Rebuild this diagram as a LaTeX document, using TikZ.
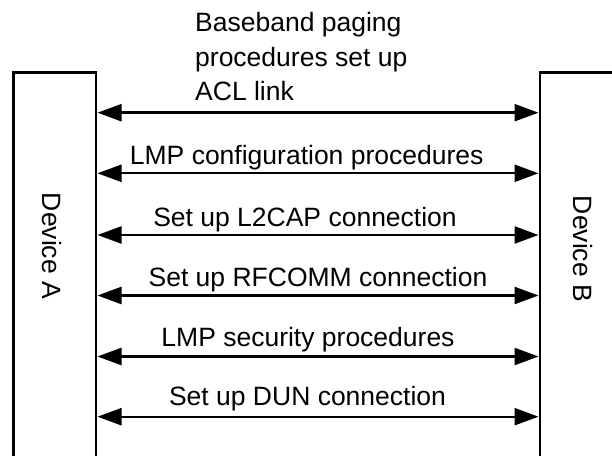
\documentclass[tikz,border=0pt]{standalone}
\usepackage{fontspec}
\setmainfont{Liberation Sans}
\usetikzlibrary{arrows.meta}
\begin{document}
\begin{tikzpicture}[x=1bp,y=-1bp,
  txt/.style={inner sep=0pt,font=\fontsize{26.5bp}{34.5bp}\selectfont},
  lbl/.style={txt,anchor=base},
  msg/.style={line width=2.4bp,{Triangle[length=24bp,width=17bp]}-{Triangle[length=24bp,width=17bp]},shorten <=0.2bp,shorten >=0.2bp},
  wall/.style={line width=2.6bp,line join=miter}]
\useasboundingbox (0,0) rectangle (612,456);
\clip (0,0) rectangle (612,456);

% device columns, open at the bottom (and at the right for B)
\draw[wall] (13.5,470) -- (13.5,72.7) -- (96,72.7) -- (96,470);
\draw[wall] (620,72.7) -- (540,72.7) -- (540,470);

\node[txt,rotate=-90] (devA) at (51.5,246) {Device A};
\node[txt,rotate=-90] (devB) at (583,249) {Device B};

% end points of the message arrows on the two device edges
\foreach \i/\y in {1/112.7,2/173.3,3/235,4/295.5,5/356.5,6/416.7}{
  \coordinate (a\i) at (97.3,\y);
  \coordinate (b\i) at (538.7,\y);
  \draw[msg] (a\i) -- (b\i);
}

% first message: three left-aligned lines
\node[txt,anchor=base west] (t1) at (195,32) {Baseband paging};
\node[txt,anchor=base west] (t2) at (195,66.5) {procedures set up};
\node[txt,anchor=base west] (t3) at (195,101) {ACL link};

\node[lbl] (m2) at (306.7,165) {LMP configuration procedures};
\node[lbl] (m3) at (305,226.7) {Set up L2CAP connection};
\node[lbl] (m4) at (318,286.7) {Set up RFCOMM connection};
\node[lbl] (m5) at (308,346) {LMP security procedures};
\node[lbl] (m6) at (307.5,405) {Set up DUN connection};
\end{tikzpicture}
\end{document}
